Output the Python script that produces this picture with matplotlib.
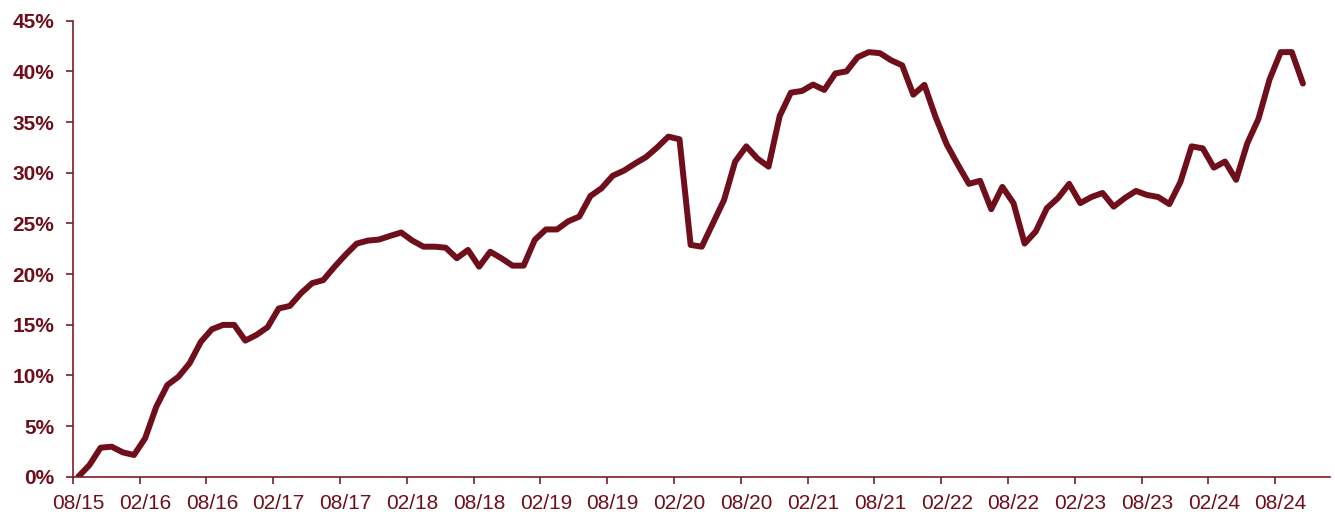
import numpy as np
import matplotlib.pyplot as plt

# monthly values, 08/15 .. 10/24 (percent)
values = [
    0.0, 1.15, 2.86, 2.96, 2.4, 2.14, 3.79, 6.9, 9.05, 9.87,
    11.2, 13.3, 14.55, 14.98, 14.98, 13.43, 13.99, 14.75, 16.6, 16.85,
    18.1, 19.1, 19.4, 20.7, 21.9, 23.0, 23.3, 23.4, 23.76, 24.1,
    23.3, 22.7, 22.7, 22.6, 21.56, 22.38, 20.73, 22.2, 21.56, 20.83,
    20.83, 23.37, 24.4, 24.4, 25.2, 25.67, 27.7, 28.47, 29.7, 30.2,
    30.9, 31.55, 32.5, 33.56, 33.3, 22.87, 22.7, 25.0, 27.3, 31.1,
    32.6, 31.4, 30.6, 35.6, 37.9, 38.07, 38.7, 38.17, 39.8, 40.0,
    41.4, 41.9, 41.8, 41.1, 40.6, 37.7, 38.67, 35.5, 32.8, 30.8,
    28.9, 29.2, 26.4, 28.6, 27.0, 23.0, 24.2, 26.5, 27.5, 28.9,
    27.0, 27.6, 28.0, 26.65, 27.5, 28.2, 27.8, 27.6, 26.9, 29.1,
    32.6, 32.4, 30.5, 31.1, 29.3, 32.9, 35.3, 39.2, 41.9, 41.9,
    38.8,
]
tick_labels = ["08/15", "02/16", "08/16", "02/17", "08/17", "02/18", "08/18",
               "02/19", "08/19", "02/20", "08/20", "02/21", "08/21", "02/22",
               "08/22", "02/23", "08/23", "02/24", "08/24"]
y_ticks = [0, 5, 10, 15, 20, 25, 30, 35, 40, 45]

LINE_COLOR = "#6E0F1B"
AXIS_COLOR = "#7A1E2C"


def main():
    plt.rcParams['font.family'] = ['Liberation Sans', 'DejaVu Sans']
    fig = plt.figure(figsize=(13.35, 5.14), dpi=100)
    ax = fig.add_axes([0.0545, 0.0726, 0.9415, 0.8871])

    # points sit in the middle of their month slot, like a category axis
    x = np.arange(len(values)) + 0.5
    ax.plot(x, values, color=LINE_COLOR, linewidth=4.3,
            solid_joinstyle='round', solid_capstyle='round')

    ax.set_xlim(0, 112.9)
    ax.set_ylim(0, 45)
    # tick marks on slot edges, labels centred on the slot
    tick_pos = np.arange(len(tick_labels)) * 6
    ax.set_xticks(tick_pos, minor=True)
    ax.set_xticks(tick_pos + 0.5)
    ax.set_xticklabels(tick_labels, fontsize=15, color=LINE_COLOR)
    ax.set_yticks(y_ticks)
    ax.set_yticklabels(["{}%".format(v) for v in y_ticks], fontsize=15,
                       fontweight='bold', color=LINE_COLOR)

    for side in ['top', 'right']:
        ax.spines[side].set_visible(False)
    for side in ['left', 'bottom']:
        ax.spines[side].set_color(AXIS_COLOR)
        ax.spines[side].set_linewidth(1.2)
    ax.tick_params(axis='x', which='major', length=0, pad=12.5)
    ax.tick_params(axis='x', which='minor', direction='out', length=4.8,
                   width=1.2, color=AXIS_COLOR)
    ax.tick_params(axis='y', direction='out', length=4.8, width=1.2,
                   color=AXIS_COLOR, pad=8.5)

    fig.savefig("out.png", dpi=100)


if __name__ == '__main__':
    main()
